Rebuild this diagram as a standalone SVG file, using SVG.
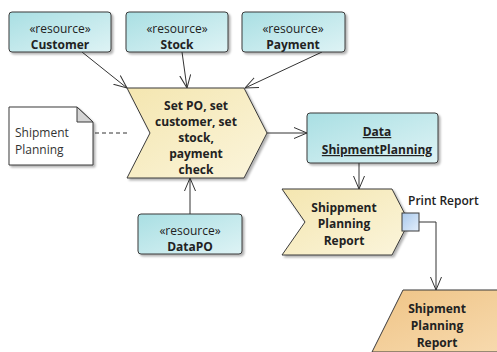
<svg xmlns="http://www.w3.org/2000/svg" width="497" height="352" viewBox="0 0 497 352">
<defs>
<linearGradient id="gTeal" x1="0" y1="0" x2="1" y2="1"><stop offset="0" stop-color="#a9dfe3"/><stop offset="1" stop-color="#def3f5"/></linearGradient>
<linearGradient id="gYel" x1="0" y1="0" x2="1" y2="1"><stop offset="0" stop-color="#f4e6b0"/><stop offset="1" stop-color="#fbf5dc"/></linearGradient>
<linearGradient id="gOr" x1="0" y1="0" x2="1" y2="1"><stop offset="0" stop-color="#efc486"/><stop offset="1" stop-color="#f8dcb2"/></linearGradient>
<linearGradient id="gBlue" x1="0" y1="0" x2="1" y2="1"><stop offset="0" stop-color="#a9c9ec"/><stop offset="1" stop-color="#e3eefb"/></linearGradient>
<filter id="sh" x="-10%" y="-10%" width="130%" height="130%"><feDropShadow dx="2" dy="2" stdDeviation="1.2" flood-color="#000" flood-opacity="0.3"/></filter>
<marker id="arr" viewBox="0 0 14 12" refX="13" refY="6" markerWidth="14" markerHeight="12" markerUnits="userSpaceOnUse" orient="auto"><path d="M0,0.5 L13,6 L0,11.5" fill="none" stroke="#333" stroke-width="1"/></marker>
<style>
.res{fill:url(#gTeal);stroke:#3a3a3a;stroke-width:1;filter:url(#sh)}
.act{fill:url(#gYel);stroke:#3a3a3a;stroke-width:1;filter:url(#sh)}
.t{font-family:"Open Sans","Noto Sans","Liberation Sans",sans-serif;font-size:12px;fill:#222;text-anchor:middle}
.b{font-weight:bold}
.c{fill:none;stroke:#333;stroke-width:1}
</style>
</defs>

<g id="connectors">
<line class="c" x1="82" y1="52" x2="127" y2="88" marker-end="url(#arr)"/>
<line class="c" x1="182" y1="52" x2="187" y2="88" marker-end="url(#arr)"/>
<line class="c" x1="322" y1="52" x2="245" y2="88" marker-end="url(#arr)"/>
<line class="c" x1="190" y1="214" x2="190" y2="178" marker-end="url(#arr)"/>
<line class="c" x1="95" y1="133" x2="127" y2="133" stroke-dasharray="4,3"/>
<line class="c" x1="267" y1="133" x2="307" y2="133" marker-end="url(#arr)"/>
<line class="c" x1="359" y1="163" x2="359" y2="189" marker-end="url(#arr)"/>
<polyline class="c" points="419,222 436,222 436,290" marker-end="url(#arr)"/>
</g>

<g id="customer">
<rect class="res" x="9" y="12" width="102" height="40" rx="3"/>
<text class="t" x="60" y="33">«resource»</text>
<text class="t b" x="60" y="49">Customer</text>
</g>
<g id="stock">
<rect class="res" x="126" y="12" width="102" height="40" rx="3"/>
<text class="t" x="177" y="33">«resource»</text>
<text class="t b" x="177" y="49">Stock</text>
</g>
<g id="payment">
<rect class="res" x="242" y="12" width="103" height="40" rx="3"/>
<text class="t" x="293" y="33">«resource»</text>
<text class="t b" x="293" y="49">Payment</text>
</g>

<g id="note">
<path d="M9,107 H77 L93,122 V165 H9 Z" fill="#fff" stroke="#3a3a3a" stroke-width="1" filter="url(#sh)"/>
<path d="M77,107 V122 H93 Z" fill="#d4d4d4" stroke="#3a3a3a" stroke-width="1"/>
<text class="t" x="15" y="137" style="text-anchor:start;fill:#333">Shipment</text>
<text class="t" x="15" y="154" style="text-anchor:start;fill:#333">Planning</text>
</g>

<g id="main-activity">
<path class="act" d="M127,88 H244 L267,133 L244,178 H127 L150,133 Z"/>
<text class="t b" x="196" y="110">Set PO, set</text>
<text class="t b" x="196" y="126">customer, set</text>
<text class="t b" x="196" y="142">stock,</text>
<text class="t b" x="196" y="158">payment</text>
<text class="t b" x="196" y="174">check</text>
</g>

<g id="datapo">
<rect class="res" x="138" y="214" width="104" height="40" rx="3"/>
<text class="t" x="190" y="235">«resource»</text>
<text class="t b" x="190" y="251">DataPO</text>
</g>

<g id="data-shipmentplanning">
<rect class="res" x="307" y="113" width="131" height="50" rx="3"/>
<text class="t b" x="377" y="136" text-decoration="underline">Data</text>
<text class="t b" x="377" y="154" text-decoration="underline">ShipmentPlanning</text>
</g>

<g id="report-activity">
<path class="act" d="M282,189 H392 L409,222 L392,255 H282 L305,222 Z"/>
<text class="t b" x="344" y="212">Shippment</text>
<text class="t b" x="344" y="228">Planning</text>
<text class="t b" x="344" y="245">Report</text>
</g>

<g id="print-report-port">
<rect x="402" y="213" width="17" height="18" fill="url(#gBlue)" stroke="#3a3a3a" stroke-width="1"/>
<text class="t" x="408" y="205" style="text-anchor:start;font-weight:600">Print Report</text>
</g>

<g id="report-output">
<path d="M403,290 H530 L499,352 H372 Z" fill="url(#gOr)" stroke="#3a3a3a" stroke-width="1" filter="url(#sh)"/>
<text class="t b" x="437" y="313">Shipment</text>
<text class="t b" x="437" y="330">Planning</text>
<text class="t b" x="437" y="347">Report</text>
</g>
</svg>
